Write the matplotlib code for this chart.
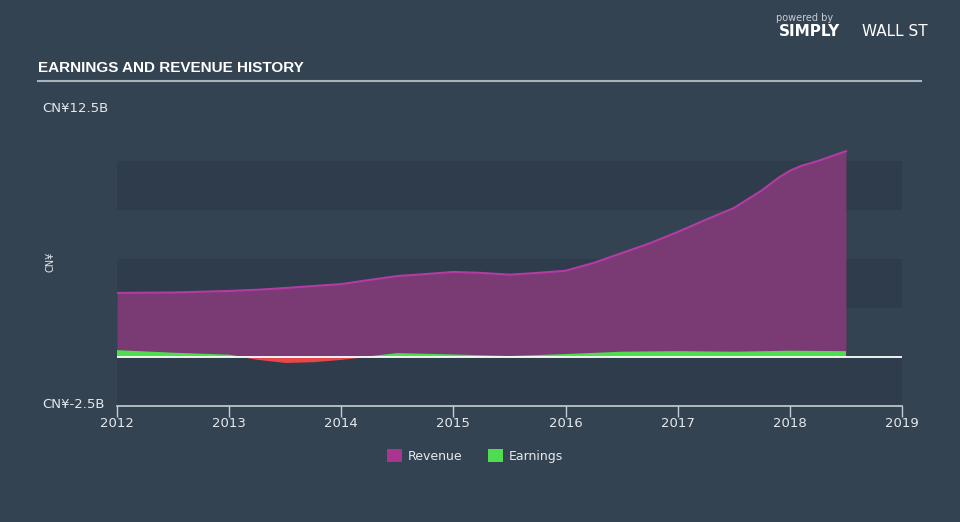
import matplotlib
matplotlib.use("Agg")
import matplotlib.pyplot as plt
from matplotlib.patches import Patch
import numpy as np

# values in CN¥ billions
rev_years = [2012.0, 2012.5, 2013.0, 2013.25, 2013.5, 2013.75, 2014.0, 2014.25, 2014.5, 2014.75,
             2015.0, 2015.25, 2015.5, 2015.75, 2016.0, 2016.25, 2016.5, 2016.75, 2017.0, 2017.25,
             2017.5, 2017.75, 2017.9, 2018.0, 2018.1, 2018.25, 2018.5]
revenue = [3.27, 3.29, 3.37, 3.43, 3.52, 3.62, 3.72, 3.93, 4.13, 4.23,
           4.34, 4.29, 4.2, 4.29, 4.4, 4.8, 5.3, 5.8, 6.38, 7.0,
           7.6, 8.5, 9.15, 9.5, 9.75, 10.0, 10.5]

earn_years = [2012.0, 2012.5, 2013.0, 2013.25, 2013.5, 2013.75, 2014.0, 2014.5, 2015.0, 2015.5,
              2016.0, 2016.5, 2017.0, 2017.5, 2018.0, 2018.5]
earnings = [0.35, 0.22, 0.12, -0.12, -0.28, -0.24, -0.12, 0.2, 0.13, 0.05,
            0.15, 0.27, 0.3, 0.27, 0.32, 0.3]

year_ticks = [2012, 2013, 2014, 2015, 2016, 2017, 2018, 2019]
y_labels = ["CN¥12.5B", "CN¥-2.5B"]

BG = "#344352"
BAND = "#2e3c4b"
REV_FILL = "#7a3a74"
REV_LINE = "#b33ca3"
GREEN = "#4fdc4f"
RED = "#e8474a"
TXT = "#e6e9ec"

plt.rcParams['font.family'] = ['DejaVu Sans']

fig = plt.figure(figsize=(9.6, 5.22), dpi=100)
fig.patch.set_facecolor(BG)
ax = fig.add_axes([117 / 960, 1 - 406 / 522, 785 / 960, 294 / 522])
ax.set_facecolor("none")
ax.set_xlim(2012, 2019)
ax.set_ylim(-2.5, 12.5)

# alternating horizontal bands
for lo in [-2.5, 2.5, 7.5]:
    ax.axhspan(lo, lo + 2.5, color=BAND, lw=0, zorder=0)

rx = np.array(rev_years)
ry = np.array(revenue)
ax.fill_between(rx, 0, ry, color=REV_FILL, lw=0, zorder=2)
ax.plot(rx, ry, color=REV_LINE, lw=1.5, zorder=3, solid_joinstyle="round")

ex = np.array(earn_years)
ey = np.array(earnings)
ax.fill_between(ex, 0, ey, where=ey >= 0, interpolate=True, color=GREEN, lw=0, zorder=4)
ax.fill_between(ex, 0, ey, where=ey <= 0, interpolate=True, color=RED, lw=0, zorder=4)

ax.axhline(0, color="white", lw=1.3, zorder=5)

for s in ["top", "right", "left"]:
    ax.spines[s].set_visible(False)
ax.spines["bottom"].set_color("#c8ced4")
ax.spines["bottom"].set_linewidth(1.2)
ax.set_yticks([])
ax.set_xticks(year_ticks)
ax.set_xticklabels([str(y) for y in year_ticks])
ax.tick_params(axis="x", colors="#c8ced4", labelcolor=TXT, length=8, width=1, labelsize=9.5, pad=0)

# y labels placed like the original
fig.text(42 / 960, 1 - 108 / 522, y_labels[0], color=TXT, fontsize=9.5, va="center", ha="left")
fig.text(42 / 960, 1 - 404 / 522, y_labels[1], color=TXT, fontsize=9.5, va="center", ha="left")
fig.text(50 / 960, 1 - 262 / 522, "CN¥", color=TXT, fontsize=7, rotation=90, va="center", ha="center")

# title and rule
fig.text(38 / 960, 1 - 68 / 522, "EARNINGS AND REVENUE HISTORY", color="white", fontsize=11,
         fontweight="bold", va="center", ha="left",
         family=['Liberation Sans', 'DejaVu Sans'])
fig.add_artist(plt.Line2D([38 / 960, 921 / 960], [1 - 81 / 522, 1 - 81 / 522],
                          color="#aab2ba", lw=1.5, transform=fig.transFigure))

# brand mark
fig.text(805 / 960, 1 - 18 / 522, "powered by", color="#c8ced4", fontsize=7, va="center", ha="center")
fig.text(810 / 960, 1 - 32 / 522, "SIMPLY", color="white", fontsize=11, fontweight="bold", va="center", ha="center")
fig.text(895 / 960, 1 - 32 / 522, "WALL ST", color="white", fontsize=11, va="center", ha="center")

# legend
handles = [Patch(facecolor="#a8358f", edgecolor="none", label="Revenue"),
           Patch(facecolor=GREEN, edgecolor="none", label="Earnings")]
leg = fig.legend(handles=handles, loc="center", bbox_to_anchor=(475 / 960, 1 - 456 / 522), ncol=2,
                 frameon=False, fontsize=9, handlelength=1.2, handleheight=1.2, columnspacing=2,
                 handletextpad=0.5)
for t in leg.get_texts():
    t.set_color(TXT)

fig.savefig("out.png", dpi=100, facecolor=BG)
